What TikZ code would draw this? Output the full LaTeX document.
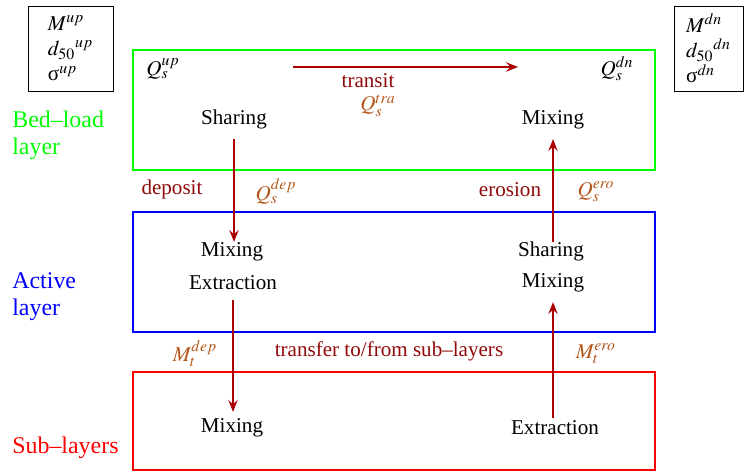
\documentclass[tikz,border=0pt]{standalone}
\usepackage{mathptmx}
\usepackage{fontspec}
\setmainfont{Liberation Serif}
\usetikzlibrary{arrows.meta}

\definecolor{flowred}{RGB}{170,0,0}
\definecolor{wordred}{RGB}{145,10,10}
\definecolor{qbrown}{RGB}{180,85,25}

\begin{document}
\begin{tikzpicture}
        [x=1cm, y=1cm, every node/.style={font=\fontsize{12}{14.4}\selectfont},
        proc/.style={inner sep=0pt},
        qty/.style={text=qbrown},
        word/.style={text=wordred},
        layername/.style={anchor=west, align=left, inner sep=0pt, font=\fontsize{13.6}{15.5}\selectfont},
        param/.style={draw, line width=0.5pt, align=left, minimum height=1.7cm, inner sep=0pt},
        flow/.style={draw=flowred, line width=0.7pt, -{Stealth[length=2.4mm,width=1.9mm,inset=0.9mm]}},
        layer/.style={line width=0.8pt}]

        \useasboundingbox (0,0) rectangle (14.9,9.44);

        \draw[layer, green] (2.66,6.04) rectangle (13.10,8.44);
        \draw[layer, blue] (2.66,2.80) rectangle (13.10,5.20);
        \draw[layer, red] (2.66,0.04) rectangle (13.10,2.00);

        \node[param, minimum width=1.7cm] (pup) at (1.41,8.47) {$M^{up}$\\ ${d_{50}}^{up}$\\ $\mbox{σ}^{up}$};
        \node[param, minimum width=1.38cm] (pdn) at (14.17,8.47) {$M^{dn}$\\ ${d_{50}}^{dn}$\\ $\mbox{σ}^{dn}$};

        \node[layername, text=green] (bed) at (0.24,6.73) {Bed--load\\ layer};
        \node[layername, text=blue] (act) at (0.24,3.50) {Active\\ layer};
        \node[layername, text=red] (sub) at (0.24,0.49) {Sub--layers};

        \node (qup) at (3.26,8.06) {$Q_s^{up}$};
        \node (qdn) at (12.34,8.06) {$Q_s^{dn}$};
        \node[word] (transit) at (7.36,7.82) {transit};
        \node[qty] (qtra) at (7.56,7.33) {$Q_s^{tra}$};

        \node[proc] (bshare) at (4.68,7.05) {Sharing};
        \node[proc] (bmix) at (11.06,7.05) {Mixing};

        \node[word] (dep) at (3.44,5.65) {deposit};
        \node[qty] (qdep) at (5.52,5.61) {$Q_s^{dep}$};
        \node[word] (ero) at (10.20,5.65) {erosion};
        \node[qty] (qero) at (11.92,5.61) {$Q_s^{ero}$};

        \node[proc] (amix) at (4.64,4.41) {Mixing};
        \node[proc] (aext) at (4.66,3.79) {Extraction};
        \node[proc] (ashare) at (11.02,4.41) {Sharing};
        \node[proc] (amix2) at (11.06,3.79) {Mixing};

        \node[qty] (mdep) at (3.90,2.37) {$M_t^{dep}$};
        \node[word] (transfer) at (7.78,2.41) {transfer to/from sub--layers};
        \node[qty] (mero) at (11.92,2.37) {$M_t^{ero}$};

        \node[proc] (smix) at (4.64,0.89) {Mixing};
        \node[proc] (sext) at (11.10,0.89) {Extraction};

        \coordinate (tr1) at (5.86,8.10);
        \coordinate (tr2) at (10.36,8.10);

        \draw[flow] (tr1) -- (tr2);
        \draw[flow, shorten <=0.20cm] (bshare.south) -- (bshare.south |- amix.north);
        \draw[flow, shorten <=0.20cm, shorten >=0.12cm] (aext.south) -- (aext.south |- smix.north);
        \draw[flow, shorten >=0.20cm] (ashare.north -| bmix.south) -- (bmix.south);
        \draw[flow, shorten <=0.04cm, shorten >=0.20cm] (sext.north -| amix2.south) -- (amix2.south);

      \end{tikzpicture}
\end{document}
